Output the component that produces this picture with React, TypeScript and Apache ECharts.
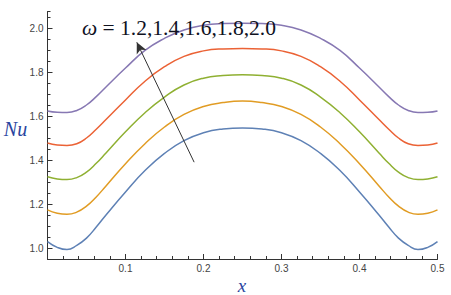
import React, { useEffect, useRef } from "react";
import * as echarts from "echarts";

const xs = [0, 0.0125, 0.025, 0.0375, 0.05, 0.0625, 0.075, 0.1, 0.125, 0.15, 0.175, 0.2, 0.225, 0.25, 0.275, 0.3, 0.325, 0.35, 0.375, 0.4, 0.425, 0.4375, 0.45, 0.4625, 0.475, 0.4875, 0.5];

const nuW12 = [1.029, 1.003, 0.993, 1.012, 1.045, 1.095, 1.15, 1.255, 1.352, 1.43, 1.488, 1.524, 1.541, 1.546, 1.541, 1.524, 1.488, 1.43, 1.352, 1.255, 1.15, 1.095, 1.045, 1.012, 0.993, 1.003, 1.029];
const nuW14 = [1.173, 1.158, 1.153, 1.163, 1.19, 1.232, 1.282, 1.383, 1.474, 1.55, 1.607, 1.643, 1.661, 1.668, 1.661, 1.643, 1.607, 1.55, 1.474, 1.383, 1.282, 1.232, 1.19, 1.163, 1.153, 1.158, 1.173];
const nuW16 = [1.324, 1.314, 1.311, 1.32, 1.345, 1.385, 1.432, 1.528, 1.615, 1.686, 1.741, 1.772, 1.784, 1.788, 1.784, 1.772, 1.741, 1.686, 1.615, 1.528, 1.432, 1.385, 1.345, 1.32, 1.311, 1.314, 1.324];
const nuW18 = [1.477, 1.468, 1.466, 1.474, 1.5, 1.54, 1.584, 1.673, 1.758, 1.824, 1.871, 1.896, 1.905, 1.907, 1.905, 1.896, 1.871, 1.824, 1.758, 1.673, 1.584, 1.54, 1.5, 1.474, 1.466, 1.468, 1.477];
const nuW20 = [1.623, 1.617, 1.616, 1.625, 1.65, 1.688, 1.732, 1.818, 1.898, 1.953, 1.991, 2.012, 2.02, 2.022, 2.02, 2.012, 1.991, 1.953, 1.898, 1.818, 1.732, 1.688, 1.65, 1.625, 1.616, 1.617, 1.623];

const seriesNames = ["ω=1.2", "ω=1.4", "ω=1.6", "ω=1.8", "ω=2.0"];
const seriesValues = [nuW12, nuW14, nuW16, nuW18, nuW20];
const seriesColors = ["#5E81B5", "#E19C24", "#8FB032", "#EB6235", "#8778B3"];

const annotationText = "{w|ω} = 1.2,1.4,1.6,1.8,2.0";

export default function App() {
  const ref = useRef<HTMLDivElement>(null);

  useEffect(() => {
    if (!ref.current) return;
    const chart = echarts.init(ref.current, null, { renderer: "svg" });
    const axisColor = "#333";
    const labelStyle = { color: "#444", fontSize: 10, fontFamily: "Liberation Sans, Arial, sans-serif" };

    const series: any[] = seriesValues.map((vals, i) => ({
      name: seriesNames[i],
      type: "line",
      xAxisIndex: 0,
      yAxisIndex: 0,
      data: xs.map((x, j) => [x, vals[j]]),
      smooth: 0.5,
      showSymbol: false,
      lineStyle: { color: seriesColors[i], width: 1.5 },
      itemStyle: { color: seriesColors[i] },
      z: 3,
    }));

    series[0].markLine = {
      silent: true,
      symbol: ["none", "arrow"],
      symbolSize: [8, 11],
      label: { show: false },
      lineStyle: { color: "#333", width: 1, type: "solid" },
      data: [[{ coord: [0.188, 1.39] }, { coord: [0.1145, 1.935] }]],
    };

    chart.setOption({
      animation: false,
      backgroundColor: "#fff",
      grid: [
        { left: 47.5, right: 13.5, top: 11.5, bottom: 36 },
        { left: 47.5, right: 13.5, top: 28, bottom: 47 },
      ],
      xAxis: [
        {
          type: "value",
          gridIndex: 0,
          min: 0,
          max: 0.5,
          interval: 0.1,
          position: "bottom",
          axisLine: { show: true, onZero: false, lineStyle: { color: axisColor, width: 1 } },
          axisTick: { show: true, inside: true, length: 5, lineStyle: { color: axisColor } },
          axisLabel: {
            ...labelStyle,
            margin: 4,
            formatter: (v: number) => (v < 1e-9 ? "" : v.toFixed(1)),
          },
          splitLine: { show: false },
        },
        {
          type: "value",
          gridIndex: 0,
          min: 0,
          max: 0.5,
          interval: 0.02,
          position: "bottom",
          axisLine: { show: false, onZero: false },
          axisTick: { show: true, inside: true, length: 3, lineStyle: { color: axisColor } },
          axisLabel: { show: false },
          splitLine: { show: false },
        },
        {
          type: "value",
          gridIndex: 1,
          min: 0,
          max: 0.5,
          show: false,
        },
      ],
      yAxis: [
        {
          type: "value",
          gridIndex: 0,
          min: 0.95,
          max: 2.075,
          interval: 0.05,
          axisLine: { show: true, onZero: false, lineStyle: { color: axisColor, width: 1 } },
          axisTick: { show: true, inside: true, length: 3, lineStyle: { color: axisColor } },
          axisLabel: { show: false },
          splitLine: { show: false },
        },
        {
          type: "value",
          gridIndex: 1,
          min: 1.0,
          max: 2.0,
          interval: 0.2,
          axisLine: { show: false, onZero: false },
          axisTick: { show: true, inside: true, length: 5, lineStyle: { color: axisColor } },
          axisLabel: { ...labelStyle, margin: 4, formatter: (v: number) => v.toFixed(1) },
          splitLine: { show: false },
        },
      ],
      series,
      graphic: [
        {
          type: "text",
          x: 82,
          y: 28,
          z: 10,
          style: {
            text: annotationText,
            fill: "#10121f",
            font: "21.5px 'Liberation Serif', 'Times New Roman', serif",
            textVerticalAlign: "middle",
            rich: {
              w: {
                fontStyle: "italic",
                fontSize: 21.5,
                fontFamily: "'Liberation Serif', 'Times New Roman', serif",
                fill: "#10121f",
              },
            },
          },
        },
        {
          type: "text",
          x: 15.5,
          y: 129,
          style: {
            text: "Nu",
            fill: "#2a45a0",
            font: "italic 20px 'Liberation Serif', 'Times New Roman', serif",
            textAlign: "center",
            textVerticalAlign: "middle",
          },
        },
        {
          type: "text",
          x: 242,
          y: 295,
          style: {
            text: "x",
            fill: "#2a45a0",
            font: "italic 19px 'Liberation Serif', 'Times New Roman', serif",
            textAlign: "center",
            textVerticalAlign: "bottom",
          },
        },
      ],
    });
    return () => chart.dispose();
  }, []);

  return (
    <div
      ref={ref}
      style={{ position: "fixed", left: 0, top: 0, width: 451, height: 295, background: "#fff" }}
    />
  );
}
